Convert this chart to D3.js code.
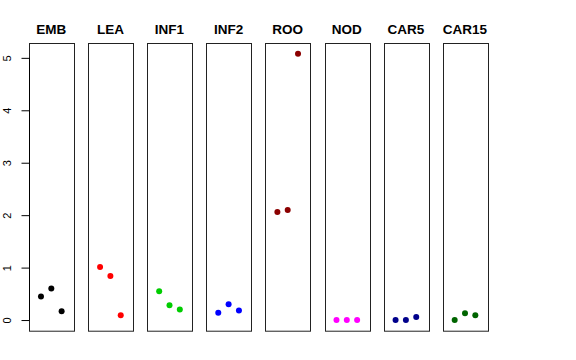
<!DOCTYPE html>
<html>
<head>
<meta charset="utf-8">
<script src="https://cdn.jsdelivr.net/npm/d3@7"></script>
<style>
  body { margin: 0; background: #fff; }
  text { font-family: "Liberation Sans", Arial, sans-serif; }
</style>
</head>
<body>
<svg id="chart" width="576" height="360"></svg>
<script>
// Tissue panels and their colours
const tissues = ["EMB", "LEA", "INF1", "INF2", "ROO", "NOD", "CAR5", "CAR15"];
const colors = ["#000000", "#FF0000", "#00CD00", "#0000FF", "#8B0000", "#FF00FF", "#00008B", "#006400"];

// Three replicate values per tissue
const values = [
    [0.45, 0.60, 0.17],
    [1.01, 0.84, 0.09],
    [0.55, 0.28, 0.20],
    [0.14, 0.30, 0.18],
    [2.06, 2.10, 5.08],
    [0.00, 0.00, 0.00],
    [0.00, 0.00, 0.06],
    [0.00, 0.13, 0.09]
];
const yTicks = [0, 1, 2, 3, 4, 5];

const svg = d3.select("#chart");

// Layout
const plotTop = 43, plotBottom = 330.7;
const firstLeft = 29, step = 59.1, panelW = 44.6;

// Shared y scale (R style 4% padding around data range)
const yMin = 0, yMax = d3.max(values.flat());
const pad = (yMax - yMin) * 0.04;
const y = d3.scaleLinear()
    .domain([yMin - pad, yMax + pad])
    .range([plotBottom, plotTop]);

tissues.forEach((name, i) => {
    const left = firstLeft + i * step;
    const x = d3.scaleLinear()
        .domain([-0.16, 4.16])
        .range([left, left + panelW]);

    const g = svg.append("g");

    // Panel box
    g.append("rect")
        .attr("x", Math.round(left) + 0.5)
        .attr("y", plotTop + 0.5)
        .attr("width", Math.round(panelW))
        .attr("height", plotBottom - plotTop)
        .attr("fill", "none")
        .attr("stroke", "#222")
        .attr("stroke-width", 1);

    // Title
    g.append("text")
        .attr("x", left + panelW / 2)
        .attr("y", 34)
        .attr("text-anchor", "middle")
        .attr("font-size", 13.5)
        .attr("font-weight", "bold")
        .text(name);

    // Points
    g.selectAll("circle")
        .data(values[i])
        .join("circle")
        .attr("cx", (d, j) => x(j + 1))
        .attr("cy", d => y(d))
        .attr("r", 3)
        .attr("fill", colors[i]);
});

// Y axis on the first panel, labels rotated like R
const axis = svg.append("g")
    .attr("transform", `translate(${firstLeft + 0.5},0)`)
    .call(d3.axisLeft(y).tickValues(yTicks).tickSize(8).tickPadding(0).tickFormat(d3.format("d")));
axis.select(".domain")
    .attr("d", `M0,${y(0)}V${y(5)}`)
    .attr("stroke", "#000");
axis.selectAll(".tick line").attr("stroke", "#000");
axis.selectAll(".tick text")
    .attr("font-size", 11)
    .attr("font-family", "Liberation Sans, Arial, sans-serif")
    .attr("fill", "#000")
    .attr("text-anchor", "middle")
    .attr("transform", "translate(-22,0) rotate(-90)")
    .attr("x", 0)
    .attr("dy", "0.35em");
</script>
</body>
</html>
